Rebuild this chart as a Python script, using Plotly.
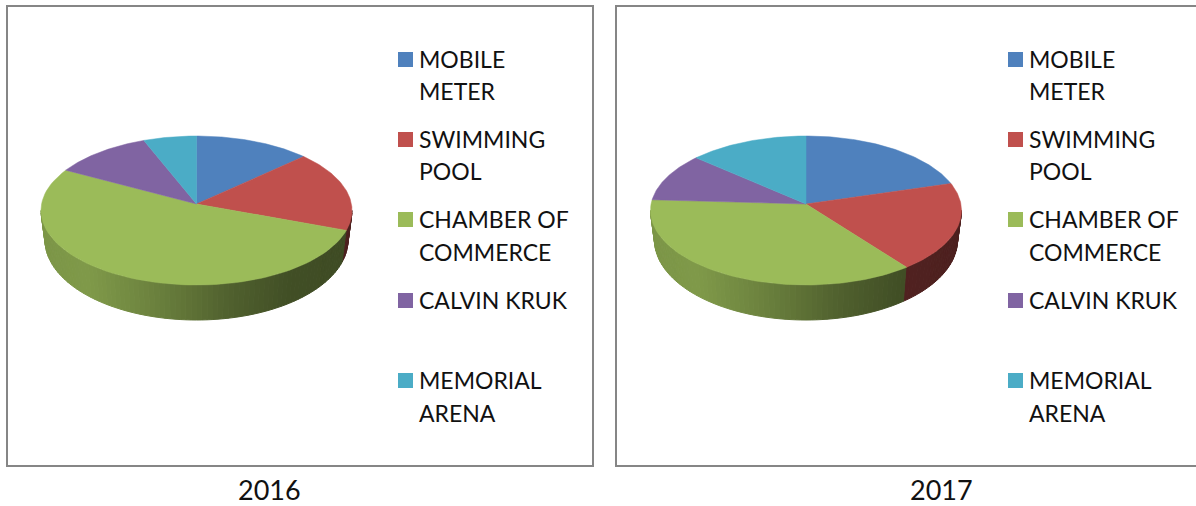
import numpy as np
import plotly.graph_objects as go

categories = ["MOBILE METER", "SWIMMING POOL", "CHAMBER OF COMMERCE", "CALVIN KRUK", "MEMORIAL ARENA"]
legend_lines = [["MOBILE", "METER"], ["SWIMMING", "POOL"], ["CHAMBER OF", "COMMERCE"], ["CALVIN KRUK"], ["MEMORIAL", "ARENA"]]
values_2016 = [12.1, 17.2, 54.8, 10.4, 5.5]
values_2017 = [19.1, 19.7, 38.5, 10.2, 12.5]
titles = ["2016", "2017"]
colors = ["#4F81BD", "#C0504D", "#9BBB59", "#8064A2", "#4BACC6"]

W, H = 1196, 506
panels = [
    dict(x0=7, x1=593, y0=6, y1=466, cx=196.5, tx=269, lx=398, vals=values_2016),
    dict(x0=616, x1=1196, y0=6, y1=466, cx=806, tx=941, lx=1008, vals=values_2017),
]
RX, RY, CY, APEX = 155.5, 74.5, 210.5, 204
BRX, BRY, BCY = 151.5, 80, 240
LEG_Y = [52, 132, 212, 293, 373]
LINE_STEP = 32.5


def shade(u):
    return np.interp(u, [-1, -0.7, -0.3, 0.2, 0.6, 1], [0.80, 0.82, 0.70, 0.52, 0.42, 0.40])


def tint(hexc, f):
    r, g, b = (int(hexc[i:i + 2], 16) for i in (1, 3, 5))
    return f"rgb({r * f:.0f},{g * f:.0f},{b * f:.0f})"


fig = go.Figure()
shapes, annots = [], []
for n, p in enumerate(panels):
    suf = "" if n == 0 else "2"
    pw, ph = p["x1"] - p["x0"], p["y1"] - p["y0"]
    ox, oy = p["cx"] - p["x0"], -p["y0"]
    edges = np.concatenate([[0], np.cumsum(p["vals"])]) / sum(p["vals"]) * 360

    # side wall of the disc, as thin strips shaded left to right
    ts = np.arange(90, 270, 2.0)
    for a in ts:
        b = a + 2.0
        mid = a + 1.0
        idx = int(np.searchsorted(edges, mid) - 1)
        t = np.radians([a, b])
        xs = list(ox + RX * np.sin(t)) + list(ox + BRX * np.sin(t[::-1]))
        ys = list(CY + oy - RY * np.cos(t)) + list(BCY + oy - BRY * np.cos(t[::-1]))
        col = tint(colors[idx], float(shade(np.sin(np.radians(mid)))))
        fig.add_trace(go.Scatter(x=xs + xs[:1], y=ys + ys[:1], mode="lines", fill="toself",
                                 fillcolor=col, line=dict(color=col, width=1),
                                 hoverinfo="skip", showlegend=False,
                                 xaxis="x" + suf, yaxis="y" + suf))
    # top face
    for i, cat in enumerate(categories):
        t = np.radians(np.linspace(edges[i], edges[i + 1], 80))
        xs = [ox] + list(ox + RX * np.sin(t)) + [ox]
        ys = [APEX + oy] + list(CY + oy - RY * np.cos(t)) + [APEX + oy]
        fig.add_trace(go.Scatter(x=xs, y=ys, mode="lines", fill="toself", name=cat,
                                 fillcolor=colors[i], line=dict(color=colors[i], width=0.5),
                                 showlegend=False, hoverinfo="name",
                                 xaxis="x" + suf, yaxis="y" + suf))
        # legend
        ly = LEG_Y[i]
        shapes.append(dict(type="rect", xref="paper", yref="paper", line_width=0, fillcolor=colors[i],
                           x0=p["lx"] / W, x1=(p["lx"] + 15) / W,
                           y0=1 - ly / H, y1=1 - (ly + 15) / H))
        for k, line in enumerate(legend_lines[i]):
            annots.append(dict(text=line, xref="paper", yref="paper", showarrow=False,
                               x=(p["lx"] + 19) / W, y=1 - (ly + 7 + k * LINE_STEP) / H,
                               xanchor="left", yanchor="middle", align="left",
                               font=dict(family="Lato", size=23, color="#111111")))
    # panel frame
    shapes.append(dict(type="rect", xref="paper", yref="paper", line=dict(color="#868686", width=2),
                       x0=p["x0"] / W, x1=p["x1"] / W if n == 0 else 1.01,
                       y0=1 - p["y0"] / H, y1=1 - p["y1"] / H))
    annots.append(dict(text=titles[n], xref="paper", yref="paper", showarrow=False,
                       x=p["tx"] / W, y=1 - 489 / H, xanchor="center", yanchor="middle",
                       font=dict(family="Lato", size=27, color="#111111")))
    axis = dict(visible=False, fixedrange=True)
    fig.update_layout({
        "xaxis" + suf: dict(axis, domain=[p["x0"] / W, p["x1"] / W], range=[0, pw]),
        "yaxis" + suf: dict(axis, domain=[1 - p["y1"] / H, 1 - p["y0"] / H], range=[ph, 0]),
    })

fig.update_layout(width=W, height=H, margin=dict(l=0, r=0, t=0, b=0), autosize=False,
                  paper_bgcolor="white", plot_bgcolor="white", showlegend=False,
                  shapes=shapes, annotations=annots)
fig.write_html("out.html", post_script="document.body.style.margin='0';",
               config={"displayModeBar": False})
